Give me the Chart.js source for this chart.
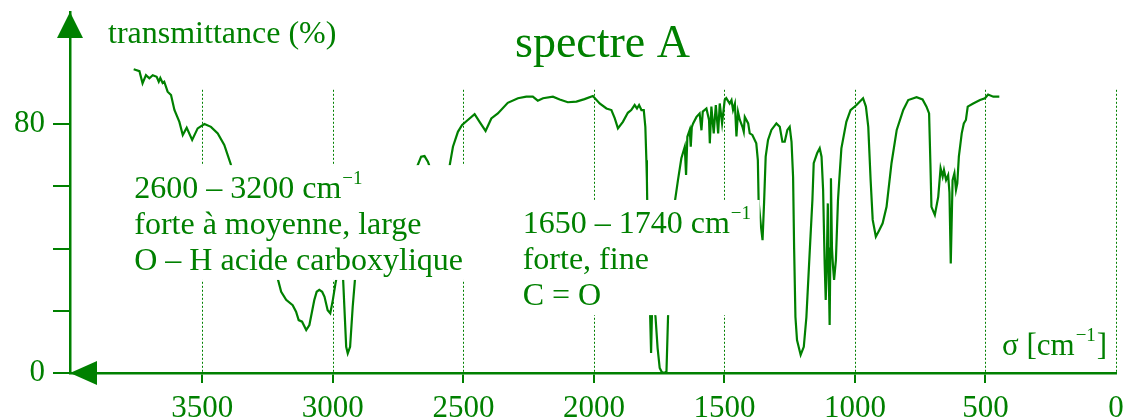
<!DOCTYPE html>
<html>
<head>
<meta charset="utf-8">
<script src="https://cdn.jsdelivr.net/npm/chart.js"></script>
<style>
  *{margin:0;padding:0;box-sizing:border-box}
  body{background:#fff;width:1123px;height:419px;overflow:hidden}
  canvas{display:block}
</style>
</head>
<body>
<canvas id="ir" width="1123" height="419"></canvas>
<script>
// wavenumbers (cm-1) and transmittance (%) of the spectrum
const sigma = [
  3763, 3741, 3729, 3716, 3703, 3690, 3675, 3667, 3661, 3652, 3646, 3633, 3620, 3607, 3588, 3575,
  3560, 3539, 3518, 3492, 3467, 3441, 3416, 3390, 3350, 3300, 3260, 3230, 3218, 3198, 3179, 3154,
  3141, 3131, 3118, 3102, 3090, 3071, 3062, 3052, 3041, 3032, 3020, 3010, 3000, 2990, 2981, 2972,
  2962, 2956, 2949, 2943, 2934, 2924, 2913, 2880, 2820, 2760, 2710, 2675, 2662, 2649, 2636, 2630,
  2610, 2585, 2565, 2553, 2540, 2521, 2505, 2483, 2457, 2438, 2415, 2393, 2368, 2330, 2291, 2259,
  2234, 2215, 2195, 2157, 2131, 2100, 2067, 2036, 2004, 1978, 1952, 1933, 1920, 1908, 1889, 1870,
  1857, 1844, 1835, 1827, 1818, 1809, 1803, 1799, 1797, 1794, 1788, 1781, 1776, 1770, 1764, 1756,
  1748, 1740, 1730, 1722, 1716, 1708, 1700, 1690, 1678, 1665, 1652, 1647, 1642, 1633, 1629, 1625,
  1620, 1607, 1595, 1588, 1583, 1569, 1559, 1556, 1550, 1541, 1533, 1524, 1518, 1509, 1499, 1493,
  1480, 1473, 1467, 1460, 1454, 1448, 1441, 1431, 1426, 1422, 1409, 1403, 1393, 1378, 1372, 1369,
  1360, 1354, 1348, 1342, 1333, 1320, 1301, 1288, 1278, 1269, 1259, 1250, 1243, 1237, 1233, 1228,
  1222, 1208, 1196, 1186, 1173, 1163, 1158, 1145, 1135, 1128, 1122, 1116, 1112, 1108, 1104, 1100,
  1097, 1094, 1092, 1088, 1084, 1080, 1073, 1065, 1061, 1052, 1033, 1017, 994, 969, 958, 949,
  940, 932, 920, 907, 894, 879, 860, 840, 815, 796, 764, 741, 726, 716, 711, 707,
  694, 681, 672, 664, 659, 651, 643, 638, 633, 626, 619, 613, 608, 602, 591, 583,
  575, 568, 547, 521, 502, 490, 470, 447
];
const transmittance = [
  97.6, 97.0, 93.1, 95.7, 94.7, 95.7, 95.2, 93.6, 94.8, 93.2, 93.6, 90.4, 89.3, 84.5, 80.7, 76.5,
  78.8, 74.9, 78.6, 80.0, 79.1, 77.0, 73.3, 66.8, 58, 50, 42, 36, 32.5, 26.1, 23.5, 21.8,
  19.7, 17.0, 16.5, 13.8, 15.4, 23.5, 26.1, 26.7, 26.1, 24.5, 20.2, 19.2, 23.5, 28.8, 32.5, 36,
  32.5, 21.3, 8.4, 6.3, 8.4, 21.3, 32.5, 42, 50, 58, 63, 66.8, 69.5, 69.7, 67.9, 66.5,
  60, 57, 60, 66.5, 72.7, 77.5, 79.7, 81.3, 83.2, 80.7, 77.8, 81.8, 83.4, 86.8, 88.3, 88.8,
  88.8, 87.5, 88.3, 88.8, 87.9, 87.0, 87.2, 88.0, 89.0, 86.6, 85.0, 84.5, 81.8, 78.6, 80.7, 83.6,
  84.5, 86.1, 85.0, 86.1, 84.5, 84.5, 79.1, 68.4, 62.0, 45, 30, 6.4, 25, 22, 18, 8,
  1.6, 0.3, 0.0, 0.5, 18.2, 35, 48, 55, 62, 69, 72.7, 63.6, 75.9, 78.1, 72.7, 79,
  80.2, 82.3, 83.4, 78, 84, 85.0, 81.3, 73.8, 85.6, 77, 86.1, 77, 86.6, 80.2, 87.7, 88.3,
  86.6, 87.7, 84.5, 86.5, 76, 83.9, 81.3, 79.1, 77.5, 82.3, 80.2, 77, 76.5, 73.8, 68.4, 55,
  47, 42.7, 55, 69.5, 74.9, 78.1, 80.2, 79.1, 74.3, 74.3, 78.1, 79.1, 74.3, 63, 40, 18,
  10.6, 5.8, 8.4, 18, 39.5, 55.6, 67.4, 70.6, 72.2, 69.5, 58.8, 35, 23.5, 35, 54.5, 30,
  15.4, 40, 62.6, 40, 34.2, 29.9, 36.3, 55.6, 60.9, 72.2, 80.7, 84.5, 86.1, 88.3, 85.6, 79.1,
  62, 49.2, 43.8, 45.9, 48.1, 53.4, 67.4, 78.1, 84.5, 87.7, 88.6, 87.9, 85.6, 83.4, 67.4, 53.4,
  50.8, 56.6, 65.8, 63.1, 65.2, 62, 63.6, 58, 35.2, 62, 64.2, 58.8, 60.9, 69.5, 77, 80.2,
  81.3, 85.6, 86.6, 87.7, 88.3, 89.5, 88.8, 88.8
];

const xTicks = [3500, 3000, 2500, 2000, 1500, 1000, 500, 0];
const yTicks = [0, 20, 40, 60, 80];
const yLabelled = [0, 80];

const GREEN = '#008000';
const SERIF = '"Liberation Serif", "Times New Roman", serif';

// boxed notes laid over the spectrum (corners in cm-1 / %)
const notes = [
  { left: 3780, right: 2469, top: 66.8, bottom: 29.9,
    lines: [['2600 – 3200 cm', '−1'], ['forte à moyenne, large'], ['O – H acide carboxylique']] },
  { left: 2292, right: 1365, top: 55.6, bottom: 18.6,
    lines: [['1650 – 1740 cm', '−1'], ['forte, fine'], ['C = O']] }
];

function textWithSup(ctx, x, y, main, sup, size, after) {
  ctx.font = size + 'px ' + SERIF;
  ctx.fillText(main, x, y);
  let cx = x + ctx.measureText(main).width;
  if (sup) {
    ctx.font = Math.round(size * 0.6) + 'px ' + SERIF;
    ctx.fillText(sup, cx + 1, y - size * 0.45);
    cx += ctx.measureText(sup).width + 2;
  }
  if (after) {
    ctx.font = size + 'px ' + SERIF;
    ctx.fillText(after, cx, y);
  }
}

const decor = {
  id: 'decor',
  beforeDatasetsDraw(chart) {
    const { ctx, scales: { x, y } } = chart;
    ctx.save();
    ctx.strokeStyle = GREEN;
    ctx.lineWidth = 1;
    ctx.setLineDash([2, 2]);
    for (const v of xTicks) {
      const px = Math.round(x.getPixelForValue(v)) + 0.5;
      ctx.beginPath();
      ctx.moveTo(px, y.getPixelForValue(91));
      ctx.lineTo(px, y.getPixelForValue(0));
      ctx.stroke();
    }
    ctx.restore();
  },
  afterDatasetsDraw(chart) {
    const { ctx, scales: { x, y } } = chart;
    ctx.save();
    ctx.textBaseline = 'alphabetic';
    for (const n of notes) {
      const l = x.getPixelForValue(n.left), r = x.getPixelForValue(n.right);
      const t = y.getPixelForValue(n.top), b = y.getPixelForValue(n.bottom);
      ctx.fillStyle = '#fff';
      ctx.fillRect(l, t, r - l, b - t);
      ctx.fillStyle = GREEN;
      n.lines.forEach((ln, i) => textWithSup(ctx, l + 5, t + 33 + i * 36, ln[0], ln[1], 32));
    }
    ctx.restore();
  },
  afterDraw(chart) {
    const { ctx, chartArea: a } = chart;
    ctx.save();
    ctx.fillStyle = GREEN;
    // arrow heads of both axes
    ctx.beginPath();
    ctx.moveTo(a.left, a.top);
    ctx.lineTo(a.left - 13, a.top + 26);
    ctx.lineTo(a.left + 13, a.top + 26);
    ctx.closePath();
    ctx.fill();
    ctx.beginPath();
    ctx.moveTo(a.left, a.bottom);
    ctx.lineTo(a.left + 27, a.bottom - 12);
    ctx.lineTo(a.left + 27, a.bottom + 12);
    ctx.closePath();
    ctx.fill();

    ctx.textBaseline = 'alphabetic';
    ctx.font = '46px ' + SERIF;
    ctx.fillText('spectre A', 515, 57);
    ctx.font = '32px ' + SERIF;
    ctx.fillText('transmittance (%)', 108, 43);
    textWithSup(ctx, 1002, 355, 'σ [cm', '−1', 31, ']');
    ctx.restore();
  }
};

new Chart(document.getElementById('ir'), {
  type: 'line',
  data: {
    datasets: [{
      data: sigma.map((s, i) => ({ x: s, y: transmittance[i] })),
      borderColor: GREEN,
      borderWidth: 2.2,
      pointRadius: 0,
      tension: 0,
      fill: false
    }]
  },
  options: {
    responsive: false,
    animation: false,
    devicePixelRatio: 1,
    layout: { padding: { top: 12, right: 7, bottom: 0, left: 0 } },
    plugins: { legend: { display: false }, tooltip: { enabled: false } },
    scales: {
      x: {
        type: 'linear', reverse: true, min: 0, max: 4007,
        afterBuildTicks: s => { s.ticks = xTicks.map(v => ({ value: v })); },
        afterFit: s => { s.height = 46; s.paddingLeft = 0; s.paddingRight = 0; },
        grid: {
          drawOnChartArea: false, tickLength: 10, lineWidth: 2,
          color: c => (c.tick && c.tick.value === 0) ? 'rgba(0,0,0,0)' : GREEN
        },
        border: { color: GREEN, width: 2.5 },
        ticks: {
          color: GREEN, font: { family: SERIF, size: 31 }, padding: 7, maxRotation: 0, autoSkip: false,
          callback: v => String(v)
        }
      },
      y: {
        min: 0, max: 116,
        afterBuildTicks: s => { s.ticks = yTicks.map(v => ({ value: v })); },
        afterFit: s => { s.width = 70; s.paddingTop = 0; s.paddingBottom = 0; },
        grid: { drawOnChartArea: false, tickLength: 17, lineWidth: 2, color: GREEN },
        border: { color: GREEN, width: 2.5 },
        ticks: {
          color: GREEN, font: { family: SERIF, size: 31 }, padding: 8,
          callback: v => yLabelled.includes(v) ? String(v) : ''
        }
      }
    }
  },
  plugins: [decor]
});
</script>
</body>
</html>
